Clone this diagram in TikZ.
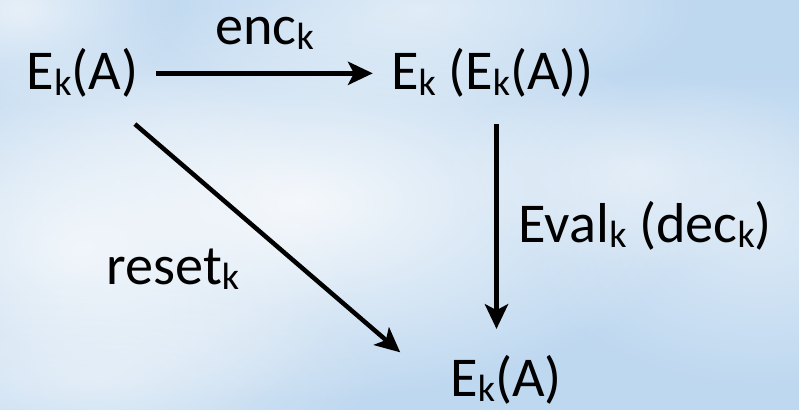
\documentclass[tikz,border=0pt]{standalone}
\usepackage{fontspec}
\setmainfont{Carlito}
\usepackage{tikz}
\usetikzlibrary{calc}
\usetikzlibrary{positioning}
\usetikzlibrary{arrows.meta}
\usetikzlibrary{fadings}
\usepackage{xcolor}
\definecolor{sky}{RGB}{190,216,240}
\definecolor{cloud}{RGB}{248,250,252}
\tikzfading[name=cloudfade, inner color=transparent!0, outer color=transparent!100]
\newcommand{\sk}{\raisebox{-0.09em}{\fontsize{27}{27}\selectfont k}}

\begin{document}
\begin{tikzpicture}[
	n/.style = {font=\fontsize{40}{48}\selectfont, inner xsep=0.45cm, inner ysep=0.65cm, anchor=base},
	lb/.style = {font=\fontsize{40}{48}\selectfont, inner sep=0pt},
	ar/.style = {-{Stealth[length=0.62cm, width=0.58cm, inset=0.15cm]}, line width=3.2pt}
	]
	\useasboundingbox (0,0) rectangle (19.975,10.25);
	
	% === === Sky === ===
	\fill[sky] (0,0) rectangle (19.975,10.25);
	\fill[cloud, opacity=0.95, path fading=cloudfade] (7.5,5.2) ellipse (10 and 5);
	\fill[cloud, opacity=0.8, path fading=cloudfade] (2,4) ellipse (7 and 5);
	\fill[cloud, opacity=0.6, path fading=cloudfade] (10.5,10) ellipse (7 and 2.5);
	\fill[cloud, opacity=0.7, path fading=cloudfade] (0.5,10) ellipse (4 and 2.5);
	\fill[cloud, opacity=0.5, path fading=cloudfade] (19,4.5) ellipse (6 and 4);
	\fill[cloud, opacity=0.5, path fading=cloudfade] (16,6) ellipse (5 and 2.5);
	\fill[cloud, opacity=0.5, path fading=cloudfade] (2.5,0.8) ellipse (7 and 2.5);
	
	% === === Nodes === ===
	\node[n]	(src)	at	(2.0625, 8.0)	{E\sk(A)};
	\node[n]	(enc)	at	(12.3125, 8.0)	{E\sk{} (E\sk(A))};
	\node[n]	(res)	at	(12.65, 0.34)	{E\sk(A)};
	
	% === === Lines === ===
	\draw[ar]	(src.east)	to	node[lb, anchor=base, yshift=0.725cm]	{enc\sk}	(enc.west);
	\draw[ar]	([xshift=0.1cm]enc.south)	to	node[lb, anchor=base west, xshift=0.5cm, yshift=-0.41cm]	{Eval\sk{} (dec\sk)}	([xshift=0.1cm]enc.south |- res.north);
	\draw[ar, shorten >=1.05cm]	([xshift=1.31cm]src.south)	to	node[lb, anchor=base east, xshift=-1.05cm, yshift=-0.825cm]	{reset\sk}	(res.west);
	
\end{tikzpicture}
\end{document}
